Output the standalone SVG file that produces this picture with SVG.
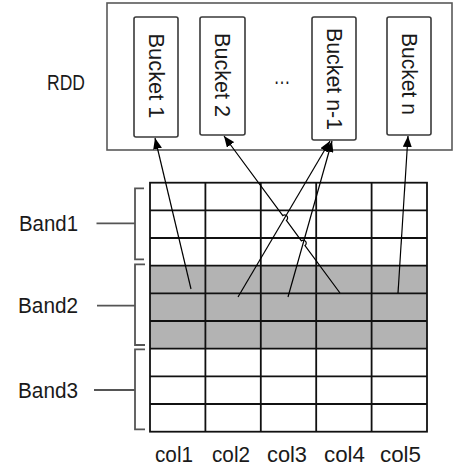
<svg xmlns="http://www.w3.org/2000/svg" width="454" height="469" viewBox="0 0 454 469">
<defs>
<style>
.lbl{font-family:"Liberation Sans",Arial,sans-serif;font-size:22px;fill:#1a1a1a}
.bk{fill:#fff;stroke:#3a3a3a;stroke-width:1.6}
.grid{stroke:#111;stroke-width:1.8;fill:none}
.br{stroke:#555;stroke-width:1.8;fill:none}
.con{stroke:#000;stroke-width:1.2;fill:none}
</style>
<marker id="ah" viewBox="0 0 11 9" markerWidth="11" markerHeight="9" refX="11" refY="4.5" orient="auto" markerUnits="userSpaceOnUse">
<path d="M0,0 L11,4.5 L0,9 z" fill="#000"/>
</marker>
</defs>
<rect width="454" height="469" fill="#fff"/>

<g id="rdd">
<rect x="107" y="3" width="345" height="147" fill="#fff" stroke="#595959" stroke-width="1.6"/>
<text class="lbl" x="47" y="90" textLength="38" lengthAdjust="spacingAndGlyphs">RDD</text>
<text class="lbl" x="282" y="84" text-anchor="middle" textLength="17" lengthAdjust="spacingAndGlyphs">…</text>
</g>

<g id="bucket1">
<rect class="bk" x="134" y="17" width="44" height="120" rx="2"/>
<text class="lbl" text-anchor="middle" dominant-baseline="central" transform="translate(156,76) rotate(90)" x="0" y="0" textLength="85" lengthAdjust="spacingAndGlyphs">Bucket 1</text>
</g>
<g id="bucket2">
<rect class="bk" x="200" y="17" width="45" height="118" rx="2"/>
<text class="lbl" text-anchor="middle" dominant-baseline="central" transform="translate(222.5,75) rotate(90)" x="0" y="0" textLength="84" lengthAdjust="spacingAndGlyphs">Bucket 2</text>
</g>
<g id="bucketn1">
<rect class="bk" x="312" y="17" width="44" height="123" rx="2"/>
<text class="lbl" text-anchor="middle" dominant-baseline="central" transform="translate(334,79) rotate(90)" x="0" y="0" textLength="102" lengthAdjust="spacingAndGlyphs">Bucket n-1</text>
</g>
<g id="bucketn">
<rect class="bk" x="387" y="17" width="44" height="118" rx="2"/>
<text class="lbl" text-anchor="middle" dominant-baseline="central" transform="translate(409,74) rotate(90)" x="0" y="0" textLength="82" lengthAdjust="spacingAndGlyphs">Bucket n</text>
</g>

<g id="grid">
<rect x="150" y="265.7" width="277" height="83" fill="#b3b3b3"/>
<rect class="grid" x="150" y="182.7" width="277" height="249"/>
<path class="grid" d="M205.4,182.7V431.7 M260.8,182.7V431.7 M316.2,182.7V431.7 M371.6,182.7V431.7
M150,210.3H427 M150,238H427 M150,265.7H427 M150,293.3H427 M150,321H427 M150,348.7H427 M150,376.3H427 M150,404H427"/>
<text class="lbl" x="174" y="462" text-anchor="middle" textLength="38" lengthAdjust="spacingAndGlyphs">col1</text>
<text class="lbl" x="231" y="462" text-anchor="middle" textLength="38" lengthAdjust="spacingAndGlyphs">col2</text>
<text class="lbl" x="287" y="462" text-anchor="middle" textLength="40" lengthAdjust="spacingAndGlyphs">col3</text>
<text class="lbl" x="344.5" y="462" text-anchor="middle" textLength="41" lengthAdjust="spacingAndGlyphs">col4</text>
<text class="lbl" x="400.5" y="462" text-anchor="middle" textLength="41" lengthAdjust="spacingAndGlyphs">col5</text>
</g>

<g id="band1">
<text class="lbl" x="19" y="231" textLength="59" lengthAdjust="spacingAndGlyphs">Band1</text>
<path class="br" d="M96.5,223.3H135 M144,188.3H135V259.3H144"/>
</g>
<g id="band2">
<text class="lbl" x="18" y="313" textLength="60" lengthAdjust="spacingAndGlyphs">Band2</text>
<path class="br" d="M97,305.7H135 M145,264.3H135V345H145"/>
</g>
<g id="band3">
<text class="lbl" x="18" y="398" textLength="60" lengthAdjust="spacingAndGlyphs">Band3</text>
<path class="br" d="M94,390H135 M145,349.3H135V429.3H145"/>
</g>

<g id="connectors">
<path class="con" marker-end="url(#ah)" d="M191,289 L155,138"/>
<path class="con" marker-end="url(#ah)" d="M340,293 L305,245.6 A3,3 0 0 0 301.4,240.8 L286.4,220.4 A3,3 0 0 0 282.8,215.6 L224,136"/>
<path class="con" marker-end="url(#ah)" d="M238,297 L330,141"/>
<path class="con" marker-end="url(#ah)" d="M288,297 L332,141"/>
<path class="con" marker-end="url(#ah)" d="M398,293 L408,136"/>
</g>
</svg>
